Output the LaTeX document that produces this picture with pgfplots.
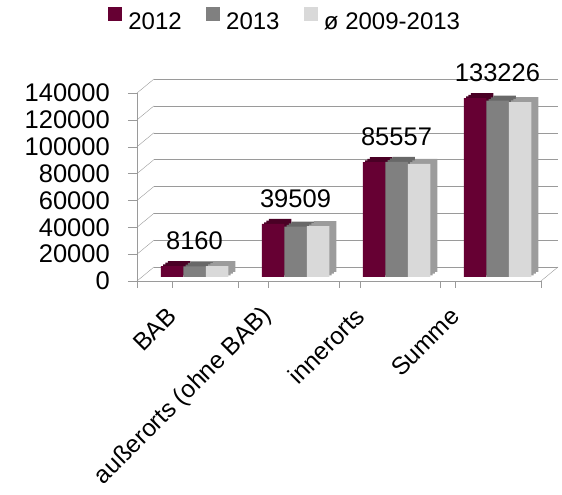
\documentclass[border=0pt]{standalone}
\usepackage{fontspec}
\setmainfont{Liberation Sans}
\usepackage{pgfplots}
\usepackage{pgfplotstable}
\pgfplotsset{compat=1.18}
\definecolor{cA}{HTML}{660033}
\definecolor{cAd}{HTML}{4A0025}
\definecolor{cB}{HTML}{808080}
\definecolor{cBd}{HTML}{686868}
\definecolor{cC}{HTML}{D9D9D9}
\definecolor{cCd}{HTML}{9C9C9C}
\definecolor{gridc}{HTML}{9A9A9A}

\pgfplotstableread{
x y2012 y2013 yavg
0 8160 8000 8100
1 39509 37500 37800
2 85557 85800 84300
3 133226 131300 130200
}\data

\begin{document}
\begin{tikzpicture}[font=\fontsize{24}{28}\selectfont]
\useasboundingbox (0,0) rectangle (562pt,495pt);
\begin{axis}[
  at={(137pt,214pt)}, anchor=south west,
  scale only axis, width=404pt, height=188pt,
  xmin=-0.5, xmax=3.5, ymin=0, ymax=140000,
  clip=false,
  scaled y ticks=false,
  axis lines*=left,
  axis line style={gridc, -},
  ybar, bar width=22.5pt,
  tick align=outside,
  xtick pos=bottom, ytick pos=left,
  major tick length=9pt,
  tick style={gridc, thin},
  ytick={0,20000,40000,60000,80000,100000,120000,140000},
  yticklabels={0,20000,40000,60000,80000,100000,120000,140000},
  yticklabel style={anchor=east, inner sep=0pt, xshift=-18pt, font=\fontsize{25.5}{28}\selectfont},
  xtick={-0.5,0.5,1.5,2.5,3.5},
  xticklabels={},
  xtick style={/pgfplots/major tick length=7pt},
  extra x ticks={-0.154,0.797,1.708,2.648},
  extra x tick labels={BAB,außerorts (ohne BAB),innerorts,Summe},
  extra x tick style={
    /pgfplots/major tick length=0pt,
    xticklabel style={yshift=-31pt, rotate=45, anchor=east, inner sep=0pt, font=\fontsize{24.5}{28}\selectfont},
  },
  ymajorgrids,
  major grid style={gridc, thin, xshift=17pt, yshift=14pt},
  legend columns=3,
  legend style={draw=none, fill=none, inner sep=0pt, outer sep=0pt,
    at={(-0.0718,1.3936)}, anchor=west,
    font=\fontsize{24}{28}\selectfont,
    nodes={inner sep=0pt},
    /tikz/every odd column/.append style={column sep=7pt},
    /tikz/every even column/.append style={column sep=24pt}},
]
\addlegendimage{legend image code/.code={\fill[cA] (0pt,2pt) rectangle (13pt,15pt);}}
\addlegendimage{legend image code/.code={\fill[cB] (0pt,2pt) rectangle (13pt,15pt);}}
\addlegendimage{legend image code/.code={\fill[cC] (0pt,2pt) rectangle (13pt,15pt);}}

\pgfplotsinvokeforeach{0,20000,40000,60000,80000,100000,120000,140000}{
  \draw[gridc, thin] (axis cs:-0.5,#1) -- ++(17pt,14pt);
}
\draw[gridc, thin] (axis cs:3.5,0) -- ++(17pt,14pt);

% series 2012
\addplot[forget plot, fill=cAd, draw=none, bar shift=-22.5pt, xshift=14pt, yshift=9pt] table[x=x,y=y2012]{\data};
\addplot[forget plot, fill=cAd, draw=none, bar shift=-22.5pt, xshift=11.67pt, yshift=7.33pt] table[x=x,y=y2012]{\data};
\addplot[forget plot, fill=cAd, draw=none, bar shift=-22.5pt, xshift=9.33pt, yshift=5.67pt] table[x=x,y=y2012]{\data};
\addplot[forget plot, fill=cA, draw=none, bar shift=-22.5pt, xshift=7pt, yshift=4pt,
  nodes near coords, point meta=explicit symbolic,
  every node near coord/.append style={font=\fontsize{25.5}{28}\selectfont, text=black, inner sep=0pt, anchor=south, xshift=22.5pt, yshift=16pt}]
  table[x=x,y=y2012,meta=y2012]{\data};
% series 2013
\addplot[forget plot, fill=cBd, draw=none, bar shift=0pt, xshift=14pt, yshift=9pt] table[x=x,y=y2013]{\data};
\addplot[forget plot, fill=cBd, draw=none, bar shift=0pt, xshift=11.67pt, yshift=7.33pt] table[x=x,y=y2013]{\data};
\addplot[forget plot, fill=cBd, draw=none, bar shift=0pt, xshift=9.33pt, yshift=5.67pt] table[x=x,y=y2013]{\data};
\addplot[forget plot, fill=cB, draw=none, bar shift=0pt, xshift=7pt, yshift=4pt] table[x=x,y=y2013]{\data};
% series average
\addplot[forget plot, fill=cCd, draw=none, bar shift=22.5pt, xshift=14pt, yshift=9pt] table[x=x,y=yavg]{\data};
\addplot[forget plot, fill=cCd, draw=none, bar shift=22.5pt, xshift=11.67pt, yshift=7.33pt] table[x=x,y=yavg]{\data};
\addplot[forget plot, fill=cCd, draw=none, bar shift=22.5pt, xshift=9.33pt, yshift=5.67pt] table[x=x,y=yavg]{\data};
\addplot[forget plot, fill=cC, draw=none, bar shift=22.5pt, xshift=7pt, yshift=4pt] table[x=x,y=yavg]{\data};

\legend{2012,2013,ø 2009-2013}
\end{axis}
\end{tikzpicture}
\end{document}
